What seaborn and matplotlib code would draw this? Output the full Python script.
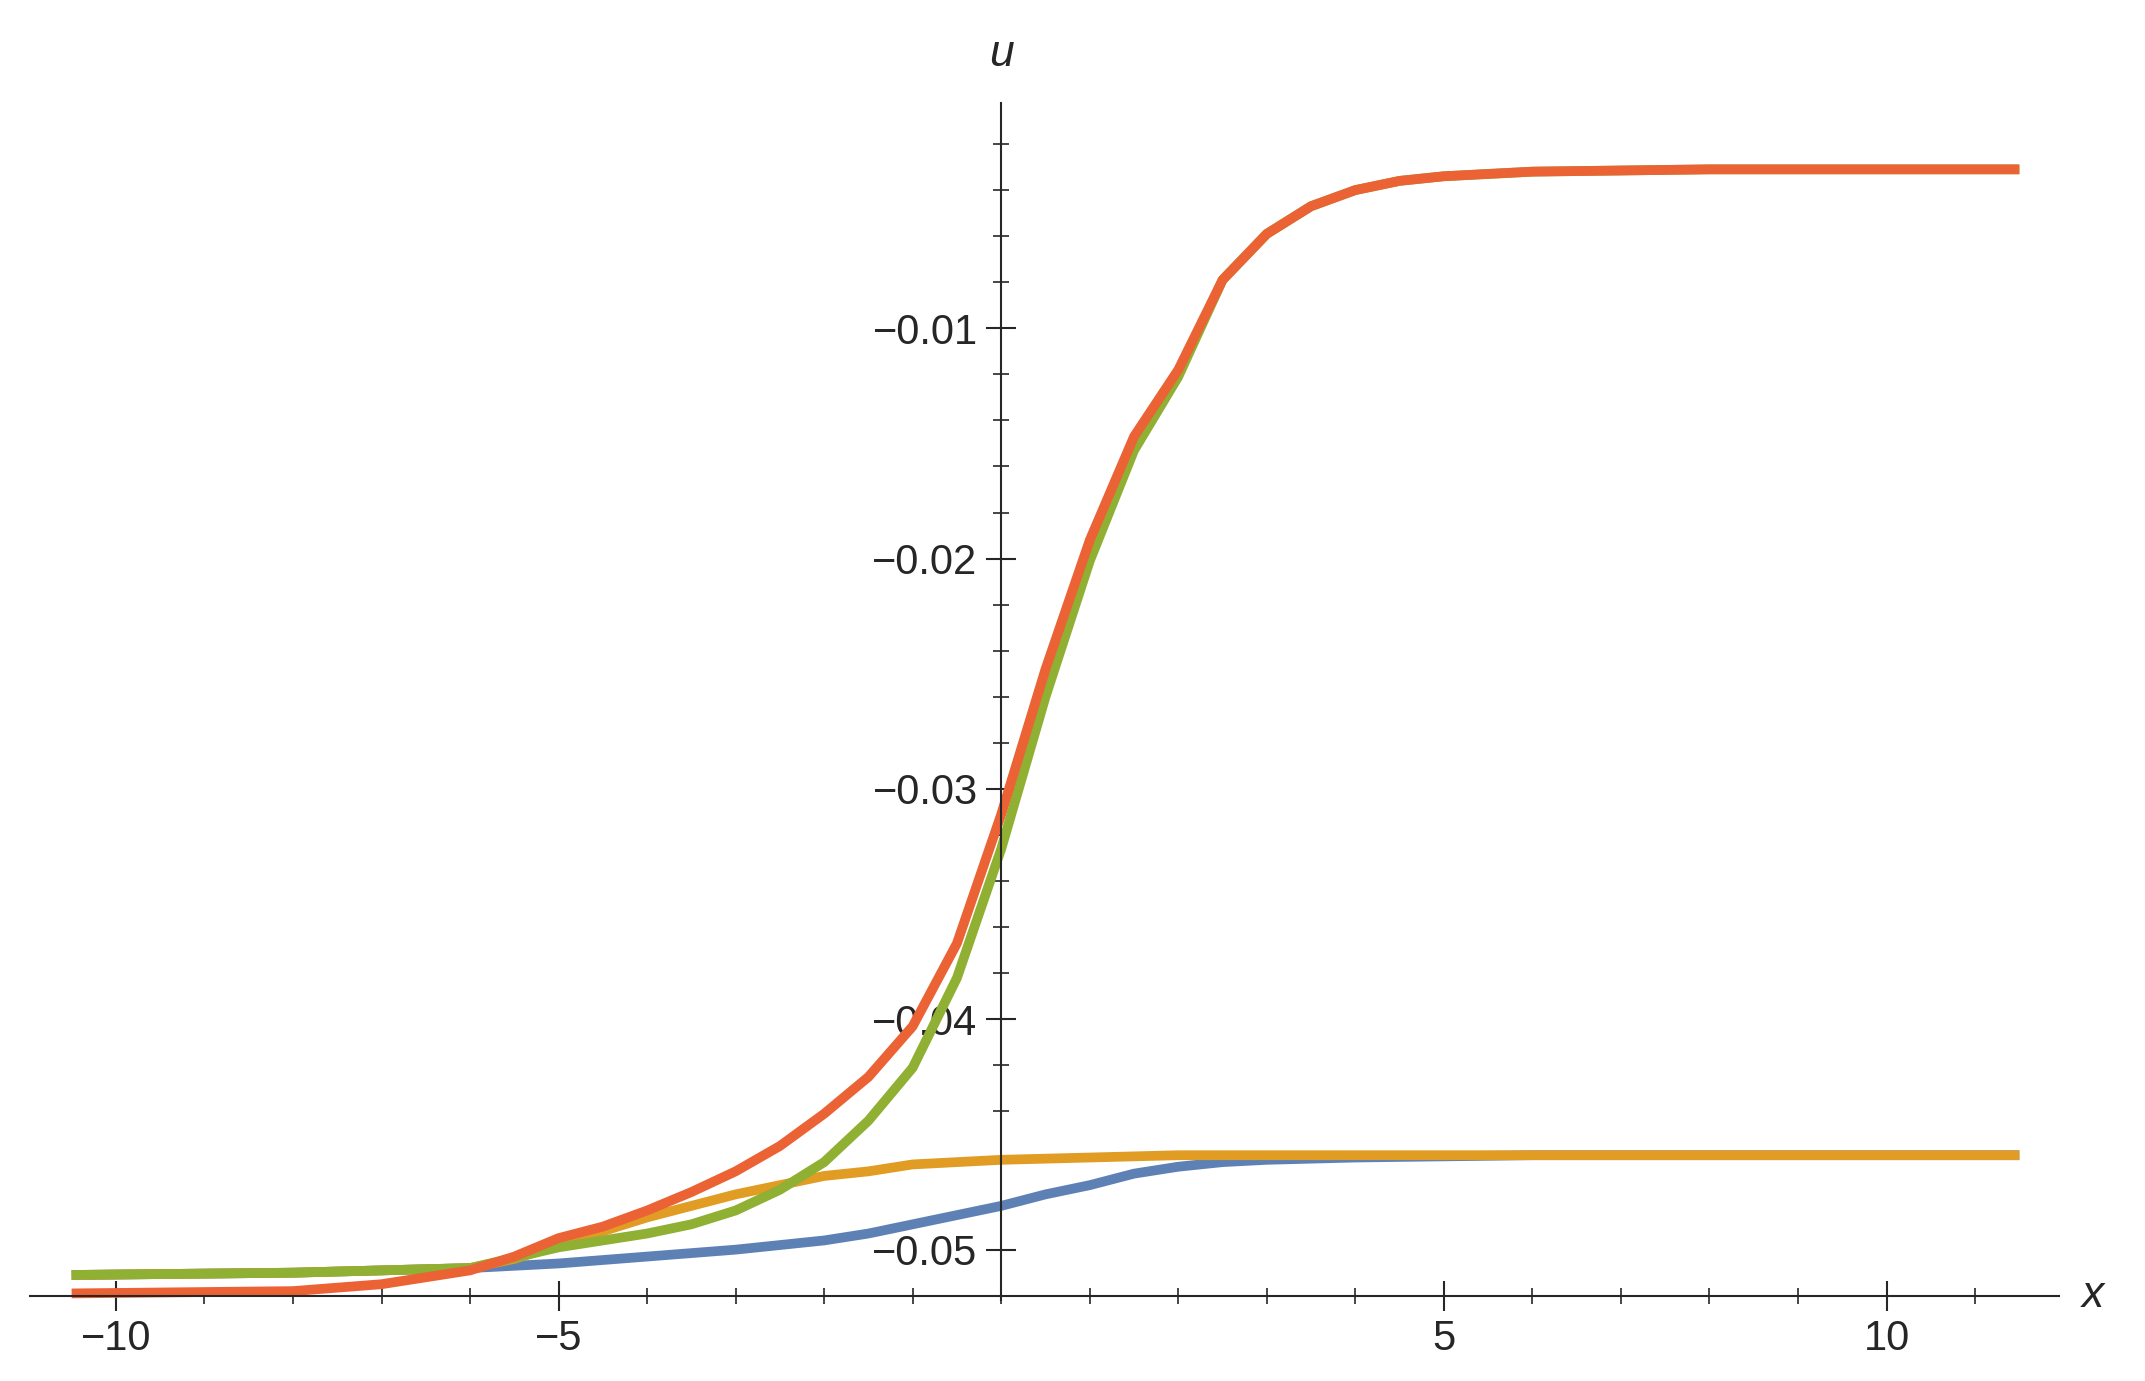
import numpy as np
import pandas as pd
import matplotlib
matplotlib.use("Agg")
import matplotlib.pyplot as plt
import seaborn as sns
from matplotlib.ticker import MultipleLocator, FixedLocator

# values
x_blue = [-10.5, -8, -6, -5, -4, -3, -2, -1.5, -1, -0.5, 0, 0.5, 1, 1.5, 2, 2.5, 3, 4, 6, 11.5]
u_blue = [-0.0511, -0.0510, -0.0508, -0.0506, -0.0503, -0.0500, -0.0496, -0.0493, -0.0489, -0.0485,
          -0.0481, -0.0476, -0.0472, -0.0467, -0.0464, -0.0462, -0.0461, -0.0460, -0.0459, -0.0459]

x_orange = [-10.5, -8, -6, -5.5, -5, -4.5, -4, -3.5, -3, -2.5, -2, -1.5, -1, 0, 1, 2, 3, 11.5]
u_orange = [-0.0511, -0.0510, -0.0508, -0.0504, -0.0498, -0.0492, -0.0486, -0.0481, -0.0476, -0.0472,
            -0.0468, -0.0466, -0.0463, -0.0461, -0.0460, -0.0459, -0.0459, -0.0459]

x_green = [-10.5, -8, -6, -5, -4, -3.5, -3, -2.5, -2, -1.5, -1, -0.5, 0, 0.5, 1, 1.5, 2,
           2.5, 3, 3.5, 4, 4.5, 5, 6, 8, 11.5]
u_green = [-0.0511, -0.0510, -0.0508, -0.0499, -0.0493, -0.0489, -0.0483, -0.0474, -0.0462, -0.0444,
           -0.0421, -0.0382, -0.0326, -0.0260, -0.0201, -0.0153, -0.0121,
           -0.0079, -0.0059, -0.0047, -0.0040, -0.0036, -0.0034, -0.0032, -0.0031, -0.0031]

x_red = [-10.5, -8, -7, -6, -5.5, -5, -4.5, -4, -3.5, -3, -2.5, -2, -1.5, -1, -0.5, 0, 0.5, 1, 1.5,
         2, 2.5, 3, 3.5, 4, 4.5, 5, 6, 8, 11.5]
u_red = [-0.0519, -0.0518, -0.0515, -0.0509, -0.0503, -0.0495, -0.0490, -0.0483, -0.0475, -0.0466,
         -0.0455, -0.0441, -0.0425, -0.0403, -0.0367, -0.0311, -0.0248, -0.0192, -0.0147,
         -0.0118, -0.0079, -0.0059, -0.0047, -0.0040, -0.0036, -0.0034, -0.0032, -0.0031, -0.0031]

curves = [
    (x_blue, u_blue, "#5E81B5"),
    (x_orange, u_orange, "#E19C24"),
    (x_green, u_green, "#8FB032"),
    (x_red, u_red, "#EB6235"),
]

x_major = [-10, -5, 5, 10]
y_major = [-0.05, -0.04, -0.03, -0.02, -0.01]

sns.set_style("ticks")
plt.rcParams["font.family"] = ["Liberation Sans", "DejaVu Sans"]

fig = plt.figure(figsize=(21.45, 13.81), dpi=100)
ax = fig.add_axes([0.014, 1 - 951 / 1010, 0.946, (951 - 75) / 1010])

for xs, us, c in curves:
    sns.lineplot(x=xs, y=us, color=c, linewidth=7, ax=ax, sort=False,
                 solid_joinstyle="round", solid_capstyle="butt")

ax.set_xlim(-10.97, 11.95)
ax.set_ylim(-0.0522, -0.0002)

for s in ["top", "right"]:
    ax.spines[s].set_visible(False)
ax.spines["left"].set_position(("data", 0))
ax.spines["bottom"].set_position(("data", -0.052))
ax.spines["left"].set_linewidth(1.5)
ax.spines["bottom"].set_linewidth(1.5)

ax.xaxis.set_major_locator(FixedLocator(x_major))
ax.xaxis.set_minor_locator(MultipleLocator(1))
ax.yaxis.set_major_locator(FixedLocator(y_major))
ax.yaxis.set_minor_locator(MultipleLocator(0.002))
ax.set_xticklabels([f"{v}".replace("-", "\u2212") for v in x_major])
ax.set_yticklabels([f"{v:.2f}".replace("-", "\u2212") for v in y_major])
ax.tick_params(which="major", direction="inout", length=22, width=1.5, labelsize=30, pad=6)
ax.tick_params(which="minor", direction="inout", length=11, width=1.2)

ax.text(11.95 + 0.25, -0.052, "x", fontsize=32, style="italic", va="center", ha="left", clip_on=False)
ax.text(0, -0.0002 + 0.0012, "u", fontsize=32, style="italic", va="bottom", ha="center", clip_on=False)

fig.savefig("out.png", dpi=100)
